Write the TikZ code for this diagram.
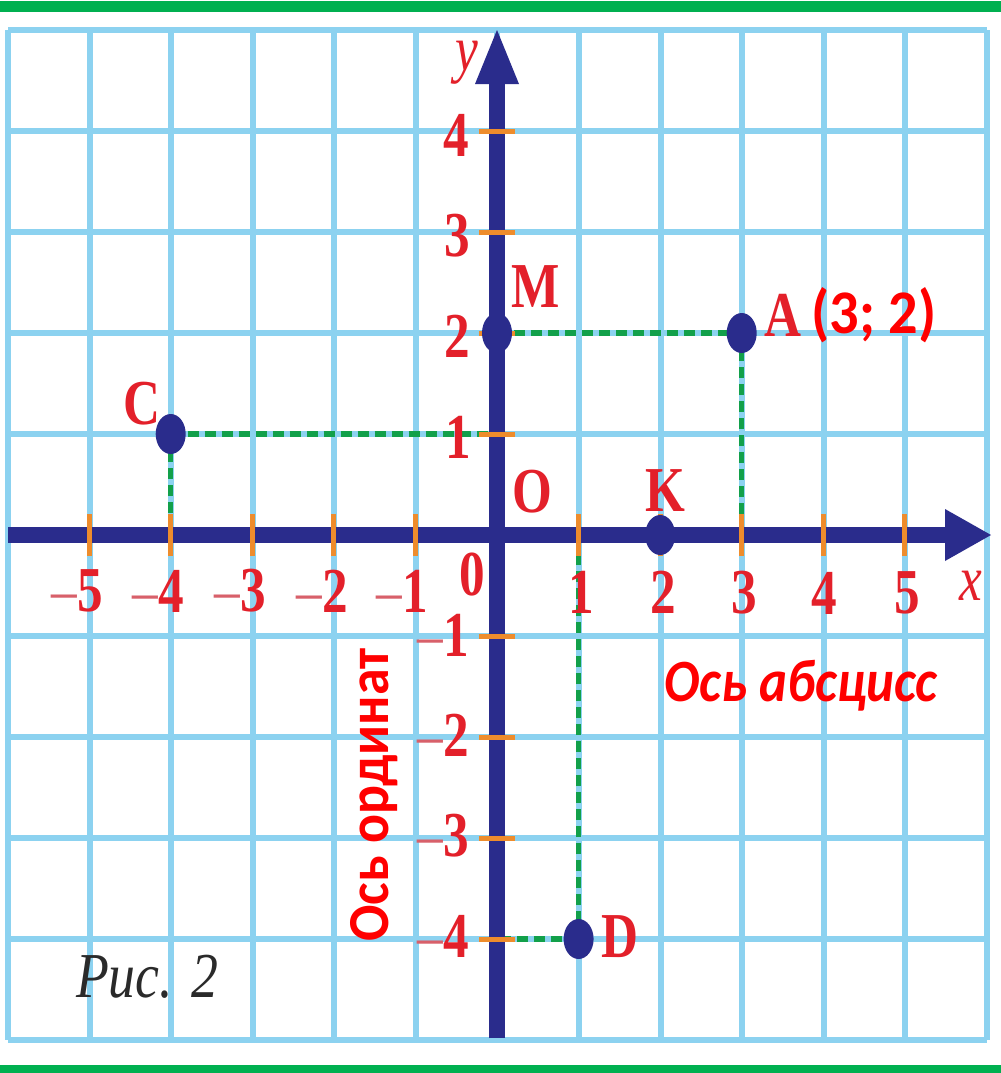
\documentclass[tikz,border=0pt]{standalone}
\usepackage{fontspec}
\setmainfont{Liberation Serif}
\newfontfamily\calibri{Carlito}
\usepackage{graphicx}
\definecolor{gridblue}{HTML}{8CD2F0}
\definecolor{navy}{HTML}{2A2C8C}
\definecolor{tickorange}{HTML}{EE8C2C}
\definecolor{dashgreen}{HTML}{12A04A}
\definecolor{bargreen}{HTML}{00B050}
\definecolor{labred}{HTML}{E3202A}
\definecolor{minusred}{HTML}{D8606A}
\definecolor{purered}{HTML}{FF0000}
\definecolor{capgray}{HTML}{2A2A2A}
\newcommand{\sx}[1]{\scalebox{0.8}[1]{#1}}
\newcommand{\mn}{{\color{minusred}\mdseries –}}
\begin{document}
\begin{tikzpicture}[x=1bp,y=-1bp,
  gridline/.style={draw=gridblue,line width=6bp},
  axisline/.style={draw=navy,line width=16bp},
  axishead/.style={fill=navy},
  tickmark/.style={draw=tickorange,line width=5bp},
  proj/.style={draw=dashgreen,line width=5.5bp,dash pattern=on 11bp off 6bp},
  dot/.style={fill=navy},
  lab/.style={text=labred,font=\fontsize{64bp}{64bp}\selectfont\bfseries,inner sep=0pt},
  ilab/.style={text=labred,font=\fontsize{64bp}{64bp}\selectfont\itshape,inner sep=0pt},
  callab/.style={text=purered,font=\fontsize{62bp}{62bp}\selectfont\calibri\bfseries,inner sep=0pt}]
\useasboundingbox (0,0) rectangle (1001,1073);
\fill[white] (0,0) rectangle (1001,1073);
% green bars
\fill[bargreen] (0,1) rectangle (1001,12);
\fill[bargreen] (0,1065) rectangle (1001,1073);
% grid
\foreach \i in {0,...,12} \draw[gridline] ({8+\i*81.58},30) -- ({8+\i*81.58},1040);
\foreach \j in {0,...,10} \draw[gridline] (8,{30+\j*101}) -- (987,{30+\j*101});
% points
\coordinate (O) at (497,535);
\coordinate (A) at (741.7,333);
\coordinate (M) at (497,333);
\coordinate (C) at (170.7,434);
\coordinate (K) at (660.2,535);
\coordinate (D) at (578.6,939);
\coordinate (Ax) at (741.7,535);
\coordinate (Cy) at (497,434);
\coordinate (Cx) at (170.7,535);
\coordinate (Dx) at (578.6,535);
\coordinate (Dy) at (497,939);
% projections
\draw[proj] (M) -- (A);
\draw[proj] (A) -- (Ax);
\draw[proj] (C) -- (Cy);
\draw[proj] (C) -- (Cx);
\draw[proj] (D) -- (Dx);
\draw[proj] (D) -- (Dy);
% axes
\coordinate (xstart) at (8,535);
\coordinate (xend) at (950,535);
\coordinate (ystart) at (497,1038);
\coordinate (yend) at (497,80);
\draw[axisline] (xstart) -- (xend);
\draw[axisline] (ystart) -- (yend);
\fill[axishead] (945,509) -- (991,535) -- (945,561) -- cycle;
\fill[axishead] (475,84) -- (497,30) -- (519,84) -- cycle;
% ticks
\foreach \i in {-5,-4,-3,-2,-1,1,2,3,4,5} \draw[tickmark] ({497+\i*81.58},514) -- ({497+\i*81.58},556);
\foreach \j in {-4,-3,-2,-1,1,2,3,4} \draw[tickmark] (479,{535-\j*101}) -- (515,{535-\j*101});
% dots
\fill[dot] (A) ellipse [x radius=15bp, y radius=20bp];
\fill[dot] (M) ellipse [x radius=15bp, y radius=20bp];
\fill[dot] (C) ellipse [x radius=15bp, y radius=20bp];
\fill[dot] (K) ellipse [x radius=15bp, y radius=20bp];
\fill[dot] (D) ellipse [x radius=15bp, y radius=20bp];
% x labels
\node[lab] (xm5) at (77,591) {\sx{\mn5}};
\node[lab] (xm4) at (158,591) {\sx{\mn4}};
\node[lab] (xm3) at (240,591) {\sx{\mn3}};
\node[lab] (xm2) at (322,591) {\sx{\mn2}};
\node[lab] (xm1) at (402,591) {\sx{\mn1}};
\node[lab] (x0) at (472,575) {\sx{0}};
\node[lab] (x1) at (581,592) {\sx{1}};
\node[lab] (x2) at (663,592) {\sx{2}};
\node[lab] (x3) at (744,593) {\sx{3}};
\node[lab] (x4) at (824,593) {\sx{4}};
\node[lab] (x5) at (907,593) {\sx{5}};
\node[ilab,anchor=base] (xname) at (971,600) {\sx{x}};
\node[ilab,anchor=base] (yname) at (467,70) {\sx{y}};
% y labels
\node[lab] (y4) at (456,135) {\sx{4}};
\node[lab] (y3) at (457,236) {\sx{3}};
\node[lab] (y2) at (457,336) {\sx{2}};
\node[lab] (y1) at (458,437) {\sx{1}};
\node[lab] (ym1) at (443,635) {\sx{\mn1}};
\node[lab] (ym2) at (443,735) {\sx{\mn2}};
\node[lab] (ym3) at (443,836) {\sx{\mn3}};
\node[lab] (ym4) at (443,936) {\sx{\mn4}};
% point labels
\node[lab] (lM) at (536,287) {\sx{M}};
\node[lab] (lO) at (532,492) {\sx{O}};
\node[lab] (lK) at (665,491) {\sx{K}};
\node[lab] (lA) at (783,315) {\sx{A}};
\node[lab] (lC) at (142,404) {\sx{C}};
\node[lab] (lD) at (620,937) {\sx{D}};
% annotations
\node[callab] (coordA) at (874,315) {\scalebox{0.94}[1]{(3; 2)}};
\node[callab,font=\fontsize{60bp}{60bp}\selectfont\calibri\bfseries\itshape,anchor=base] (abs) at (801,701) {\scalebox{0.88}[1]{Ось абсцисс}};
\node[callab,font=\fontsize{58bp}{58bp}\selectfont\calibri\bfseries,anchor=base,rotate=90] (ord) at (388,795) {\scalebox{0.93}[1]{Ось ординат}};
\node[text=capgray,font=\fontsize{64bp}{64bp}\selectfont\itshape,inner sep=0pt] (fig) at (147,977) {\scalebox{0.84}[1]{Рис. 2}};
\end{tikzpicture}
\end{document}
